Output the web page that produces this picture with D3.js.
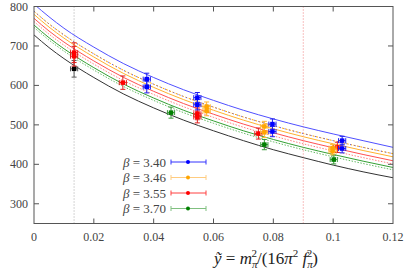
<!DOCTYPE html>
<html>
<head>
<meta charset="utf-8">
<script src="https://cdn.jsdelivr.net/npm/d3@7"></script>
<style>
  body { margin: 0; background: #fff; }
  text { font-family: "Liberation Serif", "DejaVu Serif", serif; }
</style>
</head>
<body>
<div id="d3-container"></div>
<script>
// fit curves
const curveX   = [0, 0.005, 0.01, 0.02, 0.03, 0.04, 0.05, 0.06, 0.07, 0.08, 0.09, 0.10, 0.11, 0.12];
const blueFit  = [806, 774, 745, 697, 655, 620, 589, 562, 537, 515, 495, 477, 460, 443];
const orangeA  = [788, 756, 728, 680, 638, 603, 572, 545, 520, 498, 478, 460, 443, 427];
const orangeB  = [780, 748, 720, 672, 630, 595, 564, 537, 512, 490, 470, 452, 435, 419];
const redFit   = [770, 738, 710, 662, 620, 585, 554, 527, 502, 480, 460, 442, 425, 409];
const redDot   = [762, 730, 702, 654, 612, 577, 546, 519, 494, 472, 452, 434, 417, 401];
const greenFit = [753, 721, 693, 645, 603, 568, 537, 510, 485, 463, 443, 425, 408, 392];
const greenDot = [747, 715, 687, 639, 597, 562, 531, 504, 479, 457, 437, 419, 402, 386];
const blackFit = [728, 696, 668, 620, 578, 543, 512, 485, 460, 437, 417, 398, 381, 366];

// data points
const b340x = [0.0377, 0.0377, 0.0546, 0.0546, 0.0797, 0.0797, 0.103, 0.103];
const b340y = [616, 596, 569, 551, 502, 483, 460, 440];
const b340e = [15, 15, 13, 13, 13, 13, 11, 11];
const b346x = [0.0577, 0.0577, 0.077, 0.077, 0.0998, 0.0998];
const b346y = [546, 535, 496, 481, 441, 433];
const b346e = [12, 12, 13, 13, 9, 9];
const b355x = [0.0134, 0.0134, 0.0297, 0.0546, 0.0546, 0.075, 0.1014];
const b355y = [683, 674, 607, 528, 520, 478, 443];
const b355e = [25, 25, 17, 15, 15, 14, 13];
const b370x = [0.0458, 0.077, 0.1002];
const b370y = [531, 450, 412];
const b370e = [14, 13, 11];
const physX = [0.0134];
const physY = [642];
const physE = [21];
const xErr = 0.0012;

const legendLabels = ["3.40", "3.46", "3.55", "3.70"];
const xTicks = [0, 0.02, 0.04, 0.06, 0.08, 0.1, 0.12];
const yTicks = [300, 400, 500, 600, 700, 800];
const vLines = [0.0134, 0.09];

const width = 407, height = 270;
const margin = { top: 6.5, right: 14, bottom: 46.5, left: 34 };

const svg = d3.select('#d3-container').append('svg')
  .attr('width', width).attr('height', height);

const x = d3.scaleLinear().domain([0, 0.12]).range([margin.left, width - margin.right]);
const y = d3.scaleLinear().domain([250, 800]).range([height - margin.bottom, margin.top]);

svg.append('clipPath').attr('id', 'clip').append('rect')
  .attr('x', margin.left).attr('y', margin.top)
  .attr('width', x(0.12) - x(0)).attr('height', y(250) - y(800));

// vertical guide lines
svg.append('g').selectAll('line').data(vLines).join('line')
  .attr('x1', d => x(d)).attr('x2', d => x(d))
  .attr('y1', y(250)).attr('y2', y(800))
  .attr('stroke', (d, i) => i == 0 ? '#aaa' : '#f08080')
  .attr('stroke-width', 1).attr('stroke-dasharray', '1,2');

// curves
const line = d3.line().x((d, i) => x(curveX[i])).y(d => y(d)).curve(d3.curveMonotoneX);
const curves = [
  { v: blackFit, c: '#333333', dash: null },
  { v: greenDot, c: '#66bb66', dash: '1.5,1.5' },
  { v: greenFit, c: '#33a033', dash: null },
  { v: redDot,   c: '#ff8080', dash: '1.5,1.5' },
  { v: redFit,   c: '#ff5050', dash: null },
  { v: orangeB,  c: '#ffb030', dash: null },
  { v: orangeA,  c: '#ffa500', dash: '2,1.5' },
  { v: orangeA,  c: '#5555ff', dash: '1,3.5' },
  { v: blueFit,  c: '#5050ff', dash: null }
];
svg.append('g').attr('clip-path', 'url(#clip)').selectAll('path').data(curves).join('path')
  .attr('d', d => line(d.v))
  .attr('fill', 'none')
  .attr('stroke', d => d.c)
  .attr('stroke-width', 1)
  .attr('stroke-dasharray', d => d.dash);

// points with xy error bars
const series = [
  { xs: physX, ys: physY, es: physE, c: '#000000', bar: '#555555' },
  { xs: b370x, ys: b370y, es: b370e, c: '#008000', bar: '#3a9a3a' },
  { xs: b355x, ys: b355y, es: b355e, c: '#ff0000', bar: '#e02020' },
  { xs: b346x, ys: b346y, es: b346e, c: '#ffa500', bar: '#ffb733' },
  { xs: b340x, ys: b340y, es: b340e, c: '#0000ff', bar: '#2020ee' }
];
const cap = 2.5;
series.forEach(s => {
  const g = svg.append('g');
  const pts = s.xs.map((d, i) => ({ x: d, y: s.ys[i], e: s.es[i] }));
  const p = g.selectAll('g').data(pts).join('g')
    .attr('stroke', s.bar).attr('stroke-width', 1);
  p.append('path')
    .attr('d', d => {
      const px = x(d.x), py = y(d.y), lo = y(d.y - d.e), hi = y(d.y + d.e);
      const xl = x(d.x - xErr), xr = x(d.x + xErr);
      return `M${px},${lo}V${hi}M${px - cap},${lo}h${2 * cap}M${px - cap},${hi}h${2 * cap}` +
             `M${xl},${py}H${xr}M${xl},${py - cap}v${2 * cap}M${xr},${py - cap}v${2 * cap}`;
    })
    .attr('fill', 'none');
  g.selectAll('rect').data(pts).join('rect')
    .attr('x', d => x(d.x) - 2.25).attr('y', d => y(d.y) - 2.25)
    .attr('width', 4.5).attr('height', 4.5)
    .attr('fill', s.c);
});

// border and ticks (mirrored, inward)
const frame = svg.append('g').attr('stroke', '#555').attr('stroke-width', 1);
frame.append('rect')
  .attr('x', margin.left).attr('y', margin.top)
  .attr('width', x(0.12) - x(0)).attr('height', y(250) - y(800))
  .attr('fill', 'none');
frame.selectAll('.xt').data(xTicks.slice(1, -1)).join('path').attr('class', 'xt')
  .attr('d', d => `M${x(d)},${y(250)}v-5M${x(d)},${y(800)}v5`);
frame.selectAll('.yt').data(yTicks.slice(0, -1)).join('path').attr('class', 'yt')
  .attr('d', d => `M${x(0)},${y(d)}h5M${x(0.12)},${y(d)}h-5`);

// tick labels
svg.append('g').selectAll('text').data(xTicks).join('text')
  .attr('x', d => x(d)).attr('y', y(250) + 17)
  .attr('text-anchor', 'middle').attr('font-size', 12).attr('fill', '#444')
  .text(d => d3.format('~g')(d));
svg.append('g').selectAll('text').data(yTicks).join('text')
  .attr('x', x(0) - 6).attr('y', d => y(d) + 4)
  .attr('text-anchor', 'end').attr('font-size', 12).attr('fill', '#444')
  .text(d => d);

// axis title
const title = svg.append('text')
  .attr('x', 266).attr('y', 264)
  .attr('text-anchor', 'middle').attr('font-size', 17).attr('fill', '#222');
title.append('tspan').attr('font-style', 'italic').text('ỹ');
title.append('tspan').text(' = ');
title.append('tspan').attr('font-style', 'italic').text('m');
title.append('tspan').attr('font-style', 'italic').attr('font-size', 11).attr('dy', 4).text('π');
title.append('tspan').attr('font-size', 11).attr('dy', -11).attr('dx', -6).text('2');
title.append('tspan').attr('dy', 7).text('/(16');
title.append('tspan').attr('font-style', 'italic').text('π');
title.append('tspan').attr('font-size', 11).attr('dy', -7).text('2');
title.append('tspan').attr('font-style', 'italic').attr('dy', 7).text(' f');
title.append('tspan').attr('font-style', 'italic').attr('font-size', 11).attr('dy', 4).text('π');
title.append('tspan').attr('font-size', 11).attr('dy', -11).attr('dx', -6).text('2');
title.append('tspan').attr('dy', 7).text(')');

// legend
const legColors = ['#0000ff', '#ffa500', '#ff0000', '#008000'];
const legLine = ['#3333ff', '#ffcc80', '#ff4040', '#80c080'];
const leg = svg.append('g').selectAll('g').data(legendLabels).join('g')
  .attr('transform', (d, i) => `translate(0,${162 + i * 15.5})`);
const lt = leg.append('text').attr('x', 166).attr('y', 4.5)
  .attr('text-anchor', 'end').attr('font-size', 13).attr('fill', '#444');
lt.append('tspan').attr('font-style', 'italic').text('β');
lt.append('tspan').text(d => ' = ' + d);
leg.append('path').attr('d', 'M171,0H206M171,-2.5V2.5M206,-2.5V2.5')
  .attr('stroke', (d, i) => legLine[i]).attr('stroke-width', 1).attr('fill', 'none');
leg.append('circle').attr('cx', 188).attr('cy', 0).attr('r', 2)
  .attr('fill', (d, i) => legColors[i]);
</script>
</body>
</html>
